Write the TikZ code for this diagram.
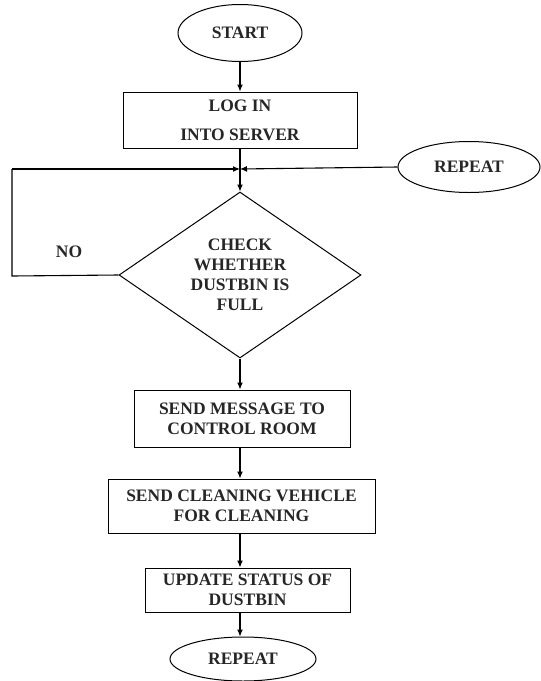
\documentclass[tikz,border=0pt]{standalone}
\usepackage{fontspec}
\setmainfont{Liberation Serif}
\usetikzlibrary{shapes.geometric,arrows.meta}
\begin{document}
\begin{tikzpicture}[x=1pt,y=-1pt,
  every node/.style={font=\fontsize{17.5}{20}\selectfont\bfseries, text=black!85, align=center, inner sep=0pt},
  term/.style={draw, line width=1pt, ellipse},
  proc/.style={draw, line width=1pt, rectangle},
  dec/.style={draw, line width=1pt, diamond},
  flow/.style={line width=1.1pt, -{Latex[length=7pt,width=6pt]}},
  link/.style={line width=1.1pt}]
\useasboundingbox (0,0) rectangle (541,681);
\coordinate (axis) at (240,0);
\node[term, minimum width=124pt, minimum height=57pt] (start) at (240,33) {START};
\node[proc, minimum width=234pt, minimum height=56pt] (login) at (240,120) {LOG IN\\[9pt]INTO SERVER};
\node[term, minimum width=142pt, minimum height=51pt] (rep1) at (469,167) {REPEAT};
\coordinate (j) at (240,169);
\node[dec, minimum width=242pt, minimum height=166pt, aspect=1.46] (check) at (240,275) {CHECK\\WHETHER\\DUSTBIN IS\\FULL};
\node[proc, minimum width=216pt, minimum height=57pt] (msg) at (242,418.5) {SEND MESSAGE TO\\CONTROL ROOM};
\node[proc, minimum width=267pt, minimum height=54pt] (clean) at (241.5,506) {SEND CLEANING VEHICLE\\FOR CLEANING};
\node[proc, minimum width=205pt, minimum height=44pt] (upd) at (247.5,590) {UPDATE STATUS OF\\DUSTBIN};
\node[term, minimum width=146pt, minimum height=44pt] (rep2) at (243,659) {REPEAT};
\node (no) at (69,252) {NO};
\coordinate (nocorner1) at (12,276);
\coordinate (nocorner2) at (12,169);

\draw[flow] (start.south -| axis) -- (login.north -| axis);
\draw[flow] (login.south -| axis) -- (check.north -| axis);
\draw[link] (check.west) -- (nocorner1) -- (nocorner2);
\draw[flow] (nocorner2) -- (j);
\draw[flow] (rep1.west) -- (j);
\draw[flow] (check.south -| axis) -- (msg.north -| axis);
\draw[flow] (msg.south -| axis) -- (clean.north -| axis);
\draw[flow] (clean.south -| axis) -- (upd.north -| axis);
\draw[flow] (upd.south -| axis) -- (rep2.north -| axis);
\end{tikzpicture}
\end{document}
